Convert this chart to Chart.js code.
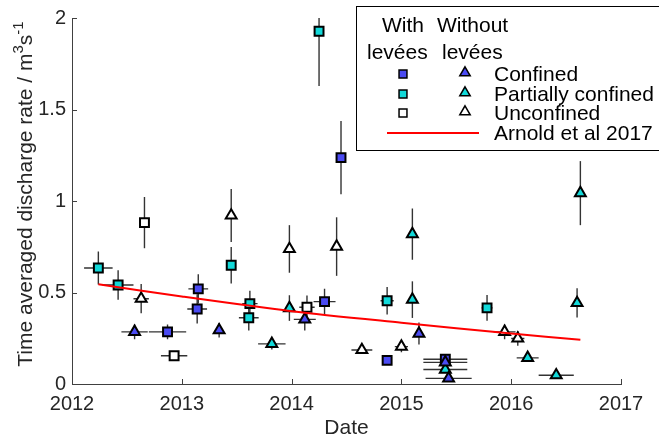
<!DOCTYPE html>
<html>
<head>
<meta charset="utf-8">
<script src="https://cdn.jsdelivr.net/npm/chart.js@4.4.1/dist/chart.umd.min.js"></script>
<style>
  body { margin: 0; background: #fff; }
  canvas { display: block; }
</style>
</head>
<body>
<canvas id="grafico-vazao" width="659" height="442"></canvas>
<script>
// ticks
const xTicks = [2012, 2013, 2014, 2015, 2016, 2017];
const xTickLabels = ['2012', '2013', '2014', '2015', '2016', '2017'];
const yTicks = [0, 0.5, 1, 1.5, 2];
const yTickLabels = ['0', '0.5', '1', '1.5', '2'];

// with levees - confined (blue squares)
const confComX = [2012.87, 2013.15, 2013.14, 2014.30, 2014.45, 2014.87, 2015.40];
const confComY = [0.285, 0.52, 0.41, 0.45, 1.237, 0.129, 0.135];
const confComEx = [0.17, 0.09, 0.09, 0.10, 0, 0, 0.20];
const confComEy = [0.04, 0.08, 0.08, 0.07, 0.2, 0, 0.01];

// with levees - partially confined (cyan squares)
const parcComX = [2012.24, 2012.42, 2013.45, 2013.62, 2013.61, 2014.25, 2014.87, 2015.78];
const parcComY = [0.634, 0.541, 0.649, 0.439, 0.362, 1.928, 0.455, 0.416];
const parcComEx = [0.13, 0.14, 0, 0.07, 0.09, 0, 0.06, 0.05];
const parcComEy = [0.09, 0.08, 0.10, 0.07, 0.07, 0.3, 0.075, 0.07];

// with levees - unconfined (white squares)
const livreComX = [2012.66, 2012.93, 2014.14];
const livreComY = [0.882, 0.154, 0.419];
const livreComEx = [0, 0.12, 0.07];
const livreComEy = [0.14, 0.02, 0.065];

// without levees - confined (blue triangles)
const confSemX = [2012.57, 2013.34, 2014.12, 2015.16, 2015.40, 2015.43];
const confSemY = [0.285, 0.294, 0.353, 0.276, 0.118, 0.031];
const confSemEx = [0.12, 0, 0.10, 0, 0.20, 0.21];
const confSemEy = [0.04, 0.04, 0.06, 0.06, 0, 0];

// without levees - partially confined (cyan triangles)
const parcSemX = [2013.82, 2013.98, 2015.10, 2015.10, 2016.63, 2016.60, 2016.15, 2016.41, 2015.40];
const parcSemY = [0.219, 0.415, 0.819, 0.461, 1.043, 0.443, 0.143, 0.048, 0.079];
const parcSemEx = [0.125, 0, 0, 0, 0, 0, 0.10, 0.16, 0.20];
const parcSemEy = [0.03, 0.07, 0.14, 0.10, 0.175, 0.08, 0.02, 0, 0];

// without levees - unconfined (white triangles)
const livreSemX = [2012.63, 2013.45, 2013.98, 2014.41, 2014.64, 2015.00, 2015.94, 2016.06];
const livreSemY = [0.466, 0.921, 0.738, 0.751, 0.186, 0.204, 0.285, 0.249];
const livreSemEx = [0.07, 0, 0, 0, 0.095, 0.06, 0.10, 0.06];
const livreSemEy = [0.08, 0.145, 0.13, 0.16, 0.02, 0.03, 0.04, 0.04];

// Arnold et al 2017
const arnoldX = [2012.24, 2013, 2014, 2015, 2016, 2016.63];
const arnoldY = [0.545, 0.478, 0.398, 0.335, 0.276, 0.242];

const legendaLinhas = ['Confined', 'Partially confined', 'Unconfined'];

const AZUL = '#4b4bf3';
const CIANO = '#12d9d9';
const BRANCO = '#ffffff';
const FONTE = '"Liberation Sans", Arial, Helvetica, sans-serif';

function pontos(xs, ys) {
  return xs.map((x, i) => ({ x: x, y: ys[i] }));
}

function serie(xs, ys, ex, ey, estilo, cor) {
  return {
    type: 'scatter',
    data: pontos(xs, ys),
    errX: ex,
    errY: ey,
    pointStyle: estilo,
    pointRadius: estilo === 'rect' ? 6.3 : 6.3,
    pointBackgroundColor: cor,
    pointBorderColor: '#000',
    pointBorderWidth: 2,
    showLine: false
  };
}

function desenharMarcador(c, tipo, x, y, r, cor, borda) {
  c.beginPath();
  if (tipo === 'rect') {
    const s = r * Math.SQRT1_2;
    c.rect(x - s, y - s, 2 * s, 2 * s);
  } else {
    c.moveTo(x, y - r);
    c.lineTo(x + r * 0.866, y + r / 2);
    c.lineTo(x - r * 0.866, y + r / 2);
    c.closePath();
  }
  c.fillStyle = cor;
  c.fill();
  c.lineWidth = borda;
  c.strokeStyle = '#000';
  c.stroke();
}

const barrasErro = {
  id: 'barrasErro',
  beforeDatasetsDraw(chart) {
    const c = chart.ctx;
    const sx = chart.scales.x;
    const sy = chart.scales.y;
    const a = chart.chartArea;
    c.save();
    c.beginPath();
    c.rect(a.left, a.top, a.right - a.left, a.bottom - a.top);
    c.clip();
    c.strokeStyle = '#333';
    c.lineWidth = 1.4;
    chart.data.datasets.forEach(ds => {
      if (!ds.errX) return;
      ds.data.forEach((p, i) => {
        const px = sx.getPixelForValue(p.x);
        const py = sy.getPixelForValue(p.y);
        c.beginPath();
        if (ds.errY[i] > 0) {
          c.moveTo(px, sy.getPixelForValue(p.y - ds.errY[i]));
          c.lineTo(px, sy.getPixelForValue(p.y + ds.errY[i]));
        }
        if (ds.errX[i] > 0) {
          c.moveTo(sx.getPixelForValue(p.x - ds.errX[i]), py);
          c.lineTo(sx.getPixelForValue(p.x + ds.errX[i]), py);
        }
        c.stroke();
      });
    });
    c.restore();

    // inward tick marks
    c.save();
    c.strokeStyle = '#404040';
    c.lineWidth = 1;
    c.beginPath();
    xTicks.forEach(v => {
      const px = Math.round(sx.getPixelForValue(v)) + 0.5;
      c.moveTo(px, a.bottom);
      c.lineTo(px, a.bottom - 5);
    });
    yTicks.forEach(v => {
      const py = Math.round(sy.getPixelForValue(v)) + 0.5;
      c.moveTo(a.left, py);
      c.lineTo(a.left + 5, py);
    });
    c.stroke();
    c.restore();
  }
};

const tituloY = {
  id: 'tituloY',
  afterDraw(chart) {
    const c = chart.ctx;
    const partes = [
      ['Time averaged discharge rate / m', 21, 0],
      ['3', 15, -9],
      ['s', 21, 0],
      ['-1', 15, -9]
    ];
    c.save();
    c.fillStyle = '#262626';
    c.textBaseline = 'alphabetic';
    let total = 0;
    partes.forEach(p => {
      c.font = p[1] + 'px ' + FONTE;
      total += c.measureText(p[0]).width;
    });
    c.translate(32, 194);
    c.rotate(-Math.PI / 2);
    let x = -total / 2;
    partes.forEach(p => {
      c.font = p[1] + 'px ' + FONTE;
      c.fillText(p[0], x, p[2]);
      x += c.measureText(p[0]).width;
    });
    c.restore();
  }
};

const legenda = {
  id: 'legenda',
  afterDraw(chart) {
    const c = chart.ctx;
    c.save();
    c.fillStyle = '#fff';
    c.fillRect(356, 6, 320, 145);
    c.strokeStyle = '#000';
    c.lineWidth = 1;
    c.strokeRect(356.5, 6.5, 320, 144);

    c.fillStyle = '#000';
    c.font = '21px ' + FONTE;
    c.textBaseline = 'alphabetic';
    c.fillText('With', 382, 32);
    c.fillText('Without', 437, 32);
    c.fillText('levées', 367, 59);
    c.fillText('levées', 442, 59);

    const cores = [AZUL, CIANO, BRANCO];
    const linhasY = [74, 94, 113];
    const baseY = [81, 101, 120];
    legendaLinhas.forEach((txt, i) => {
      desenharMarcador(c, 'rect', 403, linhasY[i], 5.6, cores[i], 1.5);
      desenharMarcador(c, 'triangle', 465, linhasY[i] - 1.2, 6, cores[i], 1.5);
      c.fillStyle = '#000';
      c.fillText(txt, 494, baseY[i]);
    });

    c.strokeStyle = '#ff0000';
    c.lineWidth = 2;
    c.beginPath();
    c.moveTo(387, 133);
    c.lineTo(479, 133);
    c.stroke();
    c.fillStyle = '#000';
    c.fillText('Arnold et al 2017', 494, 140);
    c.restore();
  }
};

const ctxVazao = document.getElementById('grafico-vazao').getContext('2d');
const graficoVazao = new Chart(ctxVazao, {
  data: {
    datasets: [
      {
        type: 'line',
        data: pontos(arnoldX, arnoldY),
        borderColor: '#ff0000',
        borderWidth: 2,
        pointRadius: 0,
        fill: false,
        tension: 0.3
      },
      // triangles listed first so they sit on top of the squares
      serie(confSemX, confSemY, confSemEx, confSemEy, 'triangle', AZUL),
      serie(parcSemX, parcSemY, parcSemEx, parcSemEy, 'triangle', CIANO),
      serie(livreSemX, livreSemY, livreSemEx, livreSemEy, 'triangle', BRANCO),
      serie(confComX, confComY, confComEx, confComEy, 'rect', AZUL),
      serie(parcComX, parcComY, parcComEx, parcComEy, 'rect', CIANO),
      serie(livreComX, livreComY, livreComEx, livreComEy, 'rect', BRANCO)
    ]
  },
  options: {
    responsive: false,
    animation: false,
    layout: {
      padding: { top: 12, right: 38, bottom: 0, left: 0 }
    },
    plugins: {
      legend: { display: false },
      tooltip: { enabled: false }
    },
    scales: {
      x: {
        type: 'linear',
        min: 2012,
        max: 2017,
        afterFit: s => { s.height = 58; },
        grid: { display: false, drawTicks: false },
        border: { display: true, color: '#404040', width: 1 },
        ticks: {
          stepSize: 1,
          padding: 8,
          color: '#262626',
          font: { size: 20, family: FONTE },
          maxRotation: 0,
          callback: (v, i) => xTickLabels[i]
        },
        title: {
          display: true,
          text: 'Date',
          color: '#262626',
          font: { size: 21, family: FONTE },
          padding: { top: 0, bottom: 1 }
        }
      },
      y: {
        type: 'linear',
        min: 0,
        max: 2,
        afterFit: s => { s.width = 72; },
        grid: { display: false, drawTicks: false },
        border: { display: true, color: '#404040', width: 1 },
        ticks: {
          stepSize: 0.5,
          padding: 6,
          color: '#262626',
          font: { size: 20, family: FONTE },
          callback: (v, i) => yTickLabels[i]
        }
      }
    }
  },
  plugins: [barrasErro, tituloY, legenda]
});
</script>
</body>
</html>
